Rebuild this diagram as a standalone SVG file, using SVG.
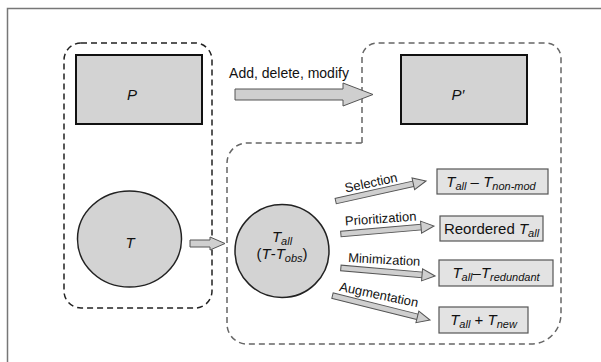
<svg xmlns="http://www.w3.org/2000/svg" width="601" height="362" viewBox="0 0 601 362">
<style>
text{font-family:"Liberation Sans",Arial,sans-serif;fill:#111}
.it{font-style:italic}
.big{font-size:15px}
.lab{font-size:13px}
.sub{font-size:11px;font-style:italic}
.prog{fill:#d3d3d3;stroke:#111;stroke-width:2}
.circ{fill:#d3d3d3;stroke:#222;stroke-width:1.5}
.res{fill:#e3e3e3;stroke:#555;stroke-width:1.2}
.arr{fill:#cfcfcf;stroke:#555;stroke-width:1}
.dashA{fill:none;stroke:#222;stroke-width:1.5;stroke-dasharray:6 4}
.dashB{fill:none;stroke:#666;stroke-width:1.5;stroke-dasharray:6 4}
</style>
<defs>
<polygon id="sarrow" points="0,0 -13,6 -13,2.8 -13,-2.8 -13,-6"/>
</defs>
<rect width="601" height="362" fill="#fff"/>
<path d="M7.5,362 V8.5 H601" fill="none" stroke="#777" stroke-width="1.5"/>

<g id="groups">
<rect id="groupLeft" class="dashA" x="64" y="43" width="148" height="265" rx="17"/>
<path id="groupRight" class="dashB" d="M362,143 V58 A15,15 0 0 1 377,43 H546 A15,15 0 0 1 561,58 V314 A30,30 0 0 1 531,344 H247 A20,20 0 0 1 227,324 V163 A20,20 0 0 1 247,143 Z"/>
</g>

<g id="P">
<rect class="prog" x="76" y="55" width="126" height="69"/>
<text class="big it" x="132" y="100" text-anchor="middle">P</text>
</g>
<g id="Pprime">
<rect class="prog" x="401" y="55" width="126" height="69"/>
<text class="big it" x="458" y="100" text-anchor="middle">P′</text>
</g>
<g id="T">
<ellipse class="circ" cx="129.5" cy="239" rx="52" ry="48"/>
<text class="big it" x="130" y="248" text-anchor="middle">T</text>
</g>
<g id="Tall">
<ellipse class="circ" cx="282" cy="251" rx="47" ry="46.5"/>
<text class="big" x="282" y="242" text-anchor="middle"><tspan class="it">T</tspan><tspan class="sub" dy="3">all</tspan></text>
<text class="big" x="282" y="259" text-anchor="middle">(<tspan class="it">T</tspan>-<tspan class="it">T</tspan><tspan class="sub" dy="3">obs</tspan><tspan dy="-3">)</tspan></text>
</g>

<g id="R1">
<rect class="res" x="437" y="169" width="111" height="25"/>
<text class="big" x="491" y="187" text-anchor="middle"><tspan class="it">T</tspan><tspan class="sub" dy="3">all</tspan><tspan dy="-3"> – </tspan><tspan class="it">T</tspan><tspan class="sub" dy="3">non-mod</tspan></text>
</g>
<g id="R2">
<rect class="res" x="440" y="216" width="103" height="25"/>
<text class="big" x="491.5" y="234" text-anchor="middle">Reordered <tspan class="it">T</tspan><tspan class="sub" dy="3">all</tspan></text>
</g>
<g id="R3">
<rect class="res" x="439" y="260" width="114" height="26"/>
<text class="big" x="496" y="278" text-anchor="middle"><tspan class="it">T</tspan><tspan class="sub" dy="3">all</tspan><tspan dy="-3">–</tspan><tspan class="it">T</tspan><tspan class="sub" dy="3">redundant</tspan></text>
</g>
<g id="R4">
<rect class="res" x="439" y="307" width="89" height="26"/>
<text class="big" x="483.5" y="325" text-anchor="middle"><tspan class="it">T</tspan><tspan class="sub" dy="3">all</tspan><tspan dy="-3"> + </tspan><tspan class="it">T</tspan><tspan class="sub" dy="3">new</tspan></text>
</g>

<g id="connectors">
<polygon class="arr" points="235,89 343,89 343,83 373,94.5 343,106 343,100 235,100"/>
<text x="289" y="78" font-size="14" text-anchor="middle">Add, delete, modify</text>
<polygon class="arr" points="190,240 210,240 210,237 225,243.5 210,250 210,247 190,247"/>

<polygon class="arr" points="0,-2.8 -80,-2.8 -80,2.8 0,2.8" transform="translate(426,181) rotate(-12.5) translate(-12.5,0)"/>
<use href="#sarrow" class="arr" transform="translate(426,181) rotate(-12.5)"/>
<text class="lab" transform="translate(372,187) rotate(-12)" text-anchor="middle">Selection</text>

<polygon class="arr" points="0,-2.8 -81,-2.8 -81,2.8 0,2.8" transform="translate(434,226) rotate(-4.9) translate(-12.5,0)"/>
<use href="#sarrow" class="arr" transform="translate(434,226) rotate(-4.9)"/>
<text class="lab" transform="translate(381,223) rotate(-4)" text-anchor="middle">Prioritization</text>

<polygon class="arr" points="0,-2.8 -82,-2.8 -82,2.8 0,2.8" transform="translate(435,276) rotate(4.9) translate(-12.5,0)"/>
<use href="#sarrow" class="arr" transform="translate(435,276) rotate(4.9)"/>
<text class="lab" transform="translate(384,264) rotate(3)" text-anchor="middle">Minimization</text>

<polygon class="arr" points="0,-2.8 -88,-2.8 -88,2.8 0,2.8" transform="translate(430,320) rotate(14) translate(-12.5,0)"/>
<use href="#sarrow" class="arr" transform="translate(430,320) rotate(14)"/>
<text class="lab" transform="translate(378,299) rotate(12)" text-anchor="middle">Augmentation</text>
</g>
</svg>
